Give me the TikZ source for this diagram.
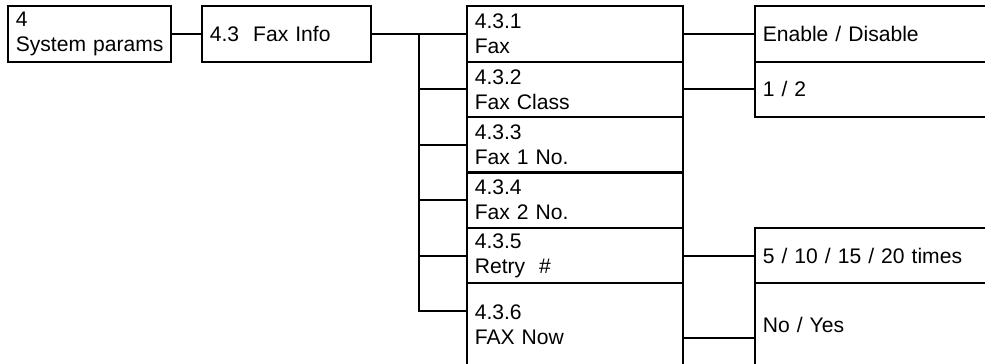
\documentclass[tikz,border=0pt]{standalone}
\usepackage{fontspec}
\setmainfont{Liberation Sans}
\usetikzlibrary{positioning, calc}
\tikzstyle{menubox} = [draw, rectangle, outer sep=0pt, inner xsep=0.15cm, inner ysep=0pt, minimum height=1.108cm, align=left, font=\fontsize{12}{14.2}\selectfont]
\tikzstyle{topbox} = [menubox, text width=2.96cm, minimum height=1.12cm]
\tikzstyle{itembox} = [menubox, text width=4.02cm]
\tikzstyle{valbox} = [menubox, text width=4.6cm]
\tikzstyle{lastrow} = [minimum height=1.66cm]

\begin{document}
\begin{tikzpicture}[line width=1.2pt]
    \useasboundingbox (0,0) rectangle (19.7,-7.26);
    \clip (0,0) rectangle (19.7,-7.26);

    \node (sys) [topbox, anchor=north west] at (0.166,-0.12) {4\\System params};
    \node (info) [topbox, text width=3.08cm, right=0.62cm of sys] {4.3~~Fax Info};

    \node (fax) [itembox, right=1.92cm of info] {4.3.1\\Fax};
    \node (class) [itembox, below=0pt of fax] {4.3.2\\Fax Class};
    \node (num1) [itembox, below=0pt of class] {4.3.3\\Fax 1 No.};
    \node (num2) [itembox, below=0pt of num1] {4.3.4\\Fax 2 No.};
    \node (retry) [itembox, below=0pt of num2] {4.3.5\\Retry~~\#};
    \node (now) [itembox, lastrow, below=0pt of retry] {4.3.6\\FAX Now};

    \node (faxval) [valbox, right=1.44cm of fax] {Enable / Disable};
    \node (classval) [valbox, below=0pt of faxval] {1 / 2};
    \node (retryval) [valbox, right=1.44cm of retry] {5 / 10 / 15 / 20 times};
    \node (nowval) [valbox, lastrow, right=1.44cm of now] {No / Yes};

    \draw (sys) -- (info);
    \draw (info) -- (fax);
    \coordinate (trunk) at ($(info.east)!0.5!(fax.west)$);
    \foreach \item in {class, num1, num2, retry}
        \draw (trunk |- \item.west) -- (\item.west);
    \coordinate (nowin) at ($(now.north west)+(0,-0.56)$);
    \draw (trunk) |- (nowin);

    \draw (fax) -- (faxval);
    \draw (class) -- (classval);
    \draw (retry) -- (retryval);
    \coordinate (nowout) at ($(now.north east)+(0,-1.1)$);
    \draw (nowout) -- (nowout -| nowval.west);
\end{tikzpicture}
\end{document}
